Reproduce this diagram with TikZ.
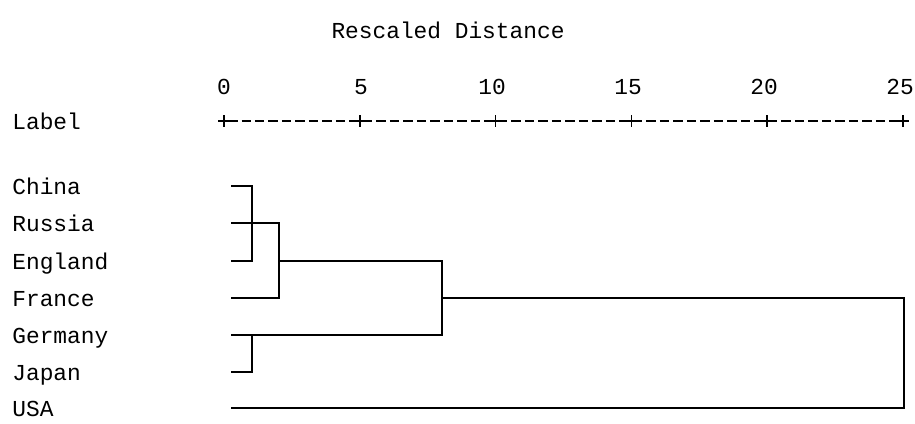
\documentclass[tikz,border=0pt]{standalone}
\usepackage{fontspec}
\newfontfamily\monofont{Liberation Mono}

\begin{document}
\begin{tikzpicture}[x=0.02cm, y=-0.02cm,
    txt/.style={font=\monofont\fontsize{13}{15}\selectfont, inner sep=0pt},
    rama/.style={line width=1pt, line cap=rect}]
        % Paso 1: Fija el marco del dibujo
        \useasboundingbox (0,0) rectangle (915,423);

        % Paso 2: Titulo y rotulo de la columna
        \node[txt] (titulo) at (448,30) {Rescaled Distance};
        \node[txt, anchor=base west] (rotulo) at (12,129) {Label};

        % Paso 3: Eje con marcas y numeros
        \foreach \d/\x in {0/224,5/361,10/492,15/628,20/764,25/900} {
            \coordinate (t\d) at ({224+27.16*\d},121);
            \draw[line width=0.9pt] (t\d) ++(-6,0) -- ++(12,0) (t\d) ++(0,-6) -- ++(0,12);
            \node[txt, anchor=south] (n\d) at (\x,95) {\d};
        }
        \draw[line width=0.9pt, dash pattern=on 0.19cm off 0.08cm, dash phase=-0.08cm] (t0) -- (t25);

        % Paso 4: Hojas (paises) y sus puntos de partida
        \foreach \pais/\y in {China/186,Russia/223,England/261,France/298,Germany/335,Japan/372,USA/408} {
            \node[txt, anchor=base west] (\pais) at (12,\y+8) {\pais};
            \coordinate (h\pais) at (232,\y);
        }

        % Paso 5: Puntos de union de los grupos
        \coordinate (c1a) at (252,186);
        \coordinate (c1b) at (252,261);
        \coordinate (c2a) at (279,223);
        \coordinate (c2b) at (279,298);
        \coordinate (c2m) at (279,261);
        \coordinate (c3a) at (252,335);
        \coordinate (c3b) at (252,372);
        \coordinate (c4a) at (442,261);
        \coordinate (c4b) at (442,335);
        \coordinate (c4m) at (442,298);
        \coordinate (c5a) at (904,298);
        \coordinate (c5b) at (904,408);

        % Paso 6: Dibuja el dendrograma
        \draw[rama] (hChina) -- (c1a) -- (c1b) -- (hEngland);
        \draw[rama] (hRussia) -- (c2a) -- (c2b) -- (hFrance);
        \draw[rama] (hJapan) -- (c3b) -- (c3a);
        \draw[rama] (c2m) -- (c4a) -- (c4b) -- (hGermany);
        \draw[rama] (c4m) -- (c5a) -- (c5b) -- (hUSA);
    \end{tikzpicture}
\end{document}
